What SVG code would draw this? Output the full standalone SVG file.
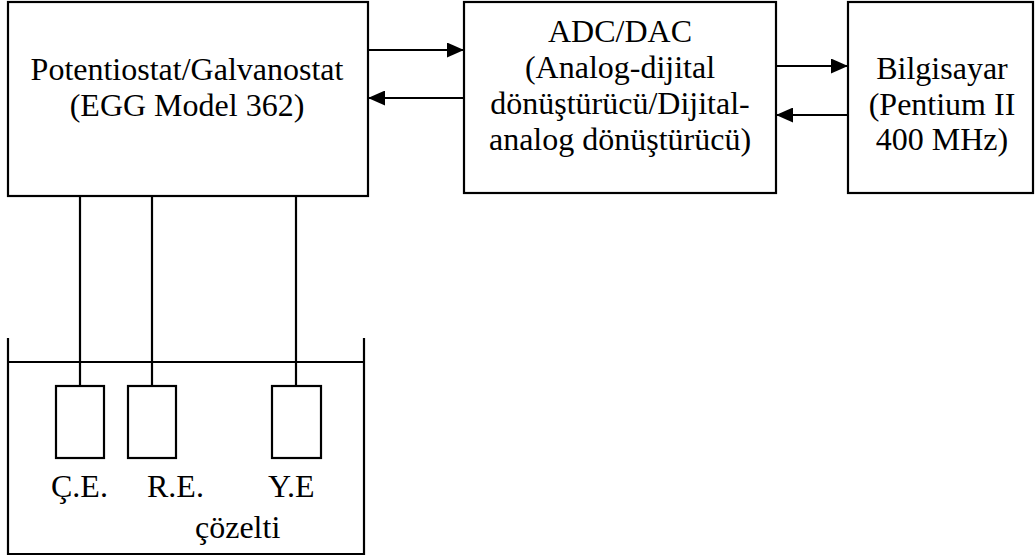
<svg xmlns="http://www.w3.org/2000/svg" width="1036" height="557" viewBox="0 0 1036 557">
<style>
.box{fill:#fff;stroke:#000;stroke-width:2.2}
.ln{fill:none;stroke:#000;stroke-width:2.2}
text{font-family:"Liberation Serif","Times New Roman",serif;font-size:32px;fill:#000}
.c{text-anchor:middle}
</style>
<defs>
<marker id="ah" markerUnits="userSpaceOnUse" markerWidth="17" markerHeight="15" refX="17" refY="7.5" orient="auto">
<path d="M0,0 L17,7.5 L0,15 z" fill="#000"/>
</marker>
</defs>
<rect width="1036" height="557" fill="#fff"/>
<g id="potentiostat">
<rect class="box" x="8" y="2" width="360" height="194"/>
<text class="c" x="187" y="80">Potentiostat/Galvanostat</text>
<text class="c" x="187" y="116">(EGG Model 362)</text>
</g>
<g id="adcdac">
<rect class="box" x="464" y="2" width="312" height="191"/>
<text class="c" x="620" y="42">ADC/DAC</text>
<text class="c" x="620" y="78">(Analog-dijital</text>
<text class="c" x="620" y="114">dönüştürücü/Dijital-</text>
<text class="c" x="620" y="150">analog dönüştürücü)</text>
</g>
<g id="bilgisayar">
<rect class="box" x="848" y="2" width="185" height="191"/>
<text class="c" x="942" y="79">Bilgisayar</text>
<text class="c" x="942" y="115">(Pentium II</text>
<text class="c" x="942" y="150">400 MHz)</text>
</g>
<g id="cell">
<path class="ln" d="M8,338 V554 H364 V338"/>
<line class="ln" x1="8" y1="362" x2="364" y2="362"/>
<text x="195" y="538">çözelti</text>
</g>
<g id="ce">
<rect class="box" x="56" y="386" width="48" height="72"/>
<text x="51" y="497">Ç.E.</text>
</g>
<g id="re">
<rect class="box" x="128" y="386" width="48" height="72"/>
<text x="147" y="497">R.E.</text>
</g>
<g id="ye">
<rect class="box" x="272" y="386" width="49" height="72"/>
<text x="268" y="497">Y.E</text>
</g>
<g id="connectors">
<line class="ln" x1="368" y1="50" x2="464" y2="50" marker-end="url(#ah)"/>
<line class="ln" x1="464" y1="98" x2="368" y2="98" marker-end="url(#ah)"/>
<line class="ln" x1="776" y1="66" x2="848" y2="66" marker-end="url(#ah)"/>
<line class="ln" x1="848" y1="115" x2="776" y2="115" marker-end="url(#ah)"/>
<line class="ln" x1="80" y1="196" x2="80" y2="386"/>
<line class="ln" x1="152" y1="196" x2="152" y2="386"/>
<line class="ln" x1="296" y1="196" x2="296" y2="386"/>
</g>
</svg>
